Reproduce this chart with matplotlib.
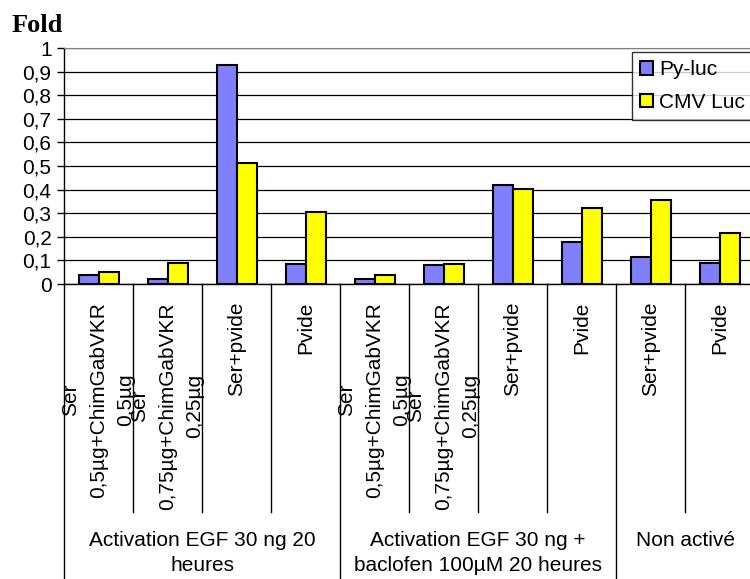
import matplotlib
matplotlib.use("Agg")
import matplotlib.pyplot as plt
import matplotlib.transforms as mtransforms
import numpy as np

# --------------------------------------------------
# DATA
# --------------------------------------------------
categories = [
    "Ser\n0,5µg+ChimGabVKR\n0,5µg",
    "Ser\n0,75µg+ChimGabVKR\n0,25µg",
    "Ser+pvide",
    "Pvide",
    "Ser\n0,5µg+ChimGabVKR\n0,5µg",
    "Ser\n0,75µg+ChimGabVKR\n0,25µg",
    "Ser+pvide",
    "Pvide",
    "Ser+pvide",
    "Pvide",
]
groups = [
    "Activation EGF 30 ng 20\nheures",
    "Activation EGF 30 ng +\nbaclofen 100µM 20 heures",
    "Non activé",
]
group_sizes = [4, 4, 2]

py_luc = [0.037, 0.022, 0.928, 0.085, 0.020, 0.080, 0.420, 0.177, 0.116, 0.090]
cmv_luc = [0.052, 0.088, 0.511, 0.305, 0.038, 0.085, 0.403, 0.321, 0.355, 0.217]

yticks = np.round(np.arange(0, 1.01, 0.1), 1)
ytick_labels = [f"{v:g}".replace(".", ",") for v in yticks]

# --------------------------------------------------
# FIGURE
# --------------------------------------------------
W, H = 750, 579
FS = 15
plt.rcParams["font.family"] = ["Liberation Sans", "DejaVu Sans"]

fig = plt.figure(figsize=(W / 100, H / 100), dpi=100)
x0, x1 = 64, 754
y_top, y_bot = 48, 284
ax = fig.add_axes([x0 / W, (H - y_bot) / H, (x1 - x0) / W, (y_bot - y_top) / H])

n = len(categories)
x = np.arange(n) + 0.5
bw = 20 / 69

ax.bar(x - bw / 2, py_luc, bw, color="#8080FF", edgecolor="black", linewidth=1.5,
       label="Py-luc", zorder=3)
ax.bar(x + bw / 2, cmv_luc, bw, color="#FFFF00", edgecolor="black", linewidth=1.5,
       label="CMV Luc", zorder=3)

ax.set_xlim(0, n)
ax.set_ylim(0, 1)
ax.set_yticks(yticks)
ax.set_yticklabels(ytick_labels, fontsize=FS)
ax.tick_params(axis="y", length=5, width=1, pad=4)
ax.set_xticks([])
ax.yaxis.grid(True, color="black", linewidth=0.9, zorder=0)
ax.spines["right"].set_visible(False)
ax.spines["top"].set_color("#808080")
ax.spines["left"].set_linewidth(1)
ax.spines["bottom"].set_linewidth(1)

# category labels and separators (figure pixel y, data x)
tr = mtransforms.blended_transform_factory(ax.transData, fig.transFigure)
def fy(py):
    return (H - py) / H

for i, lab in enumerate(categories):
    ax.text(x[i], fy(302), lab, transform=tr, rotation=90, ha="center", va="top",
            multialignment="center", fontsize=FS, linespacing=1.57)

bounds = np.concatenate([[0], np.cumsum(group_sizes)])
for i in range(n + 1):
    yend = H if i in bounds else 512
    ax.plot([i, i], [fy(y_bot), fy(yend)], transform=tr, color="black",
            linewidth=1, clip_on=False)

for g, lab in enumerate(groups):
    cx = (bounds[g] + bounds[g + 1]) / 2
    ax.text(cx, fy(531), lab, transform=tr, ha="center", va="top",
            multialignment="center", fontsize=FS, linespacing=1.43)

fig.text(12 / W, fy(25), "Fold", fontsize=19, fontweight="bold",
         family="Liberation Serif", ha="left", va="center")

leg = ax.legend(loc="upper left", bbox_to_anchor=(632 / W, fy(52)),
                bbox_transform=fig.transFigure, fontsize=FS, frameon=True,
                fancybox=False, borderaxespad=0, handlelength=0.6,
                handleheight=0.6, handletextpad=0.3, borderpad=0.4,
                labelspacing=0.65)
leg.get_frame().set_edgecolor("black")
leg.get_frame().set_linewidth(1)

fig.savefig("out.png", dpi=100)
